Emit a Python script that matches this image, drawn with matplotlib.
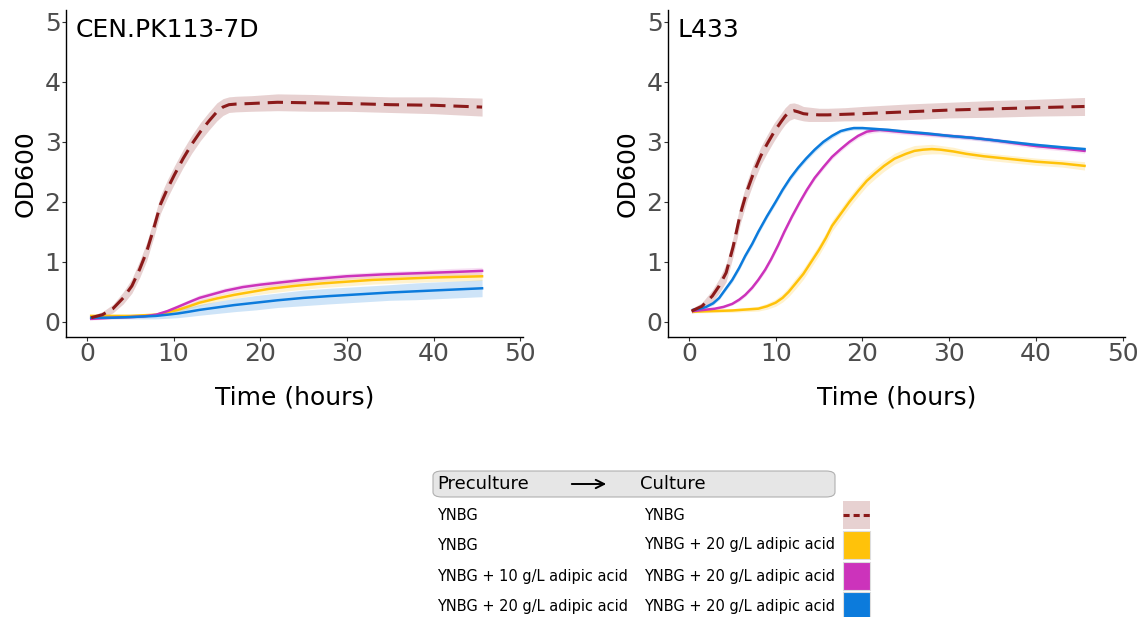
import numpy as np
import matplotlib.pyplot as plt
from matplotlib.patches import FancyBboxPatch, Rectangle
from matplotlib.lines import Line2D

# ---- data ----
# CEN.PK113-7D
cen_ynbg_t = [0.5, 1.8, 3.0, 4.2, 5.2, 6.1, 6.9, 7.7, 8.5, 9.3, 10.1, 11.1, 12.1, 13.1, 14.1, 15.0, 15.7, 16.4, 17.2, 19, 22, 26, 30, 35, 40, 45.6]
cen_ynbg_y = [0.07, 0.12, 0.22, 0.4, 0.6, 0.88, 1.17, 1.55, 1.96, 2.22, 2.45, 2.72, 2.96, 3.17, 3.35, 3.5, 3.58, 3.62, 3.63, 3.64, 3.66, 3.65, 3.64, 3.62, 3.61, 3.58]
cen_ynbg_sd = [0.03, 0.05, 0.07, 0.1, 0.12, 0.14, 0.15, 0.15, 0.15, 0.15, 0.15, 0.15, 0.15, 0.15, 0.15, 0.15, 0.14, 0.13, 0.13, 0.13, 0.14, 0.14, 0.13, 0.13, 0.14, 0.15]

cen_y0_t = [0.5, 3, 5, 6.5, 8, 9.3, 10.5, 11.8, 13, 15, 17, 19, 21, 24, 27, 30, 33, 36.5, 40, 45.6]
cen_y0_y = [0.1, 0.1, 0.1, 0.11, 0.12, 0.16, 0.2, 0.26, 0.32, 0.39, 0.45, 0.5, 0.55, 0.6, 0.64, 0.67, 0.7, 0.72, 0.74, 0.76]
cen_y0_sd = [0.02, 0.02, 0.02, 0.02, 0.03, 0.03, 0.04, 0.04, 0.05, 0.05, 0.06, 0.06, 0.07, 0.07, 0.07, 0.07, 0.07, 0.07, 0.07, 0.07]

cen_y10_t = [0.5, 3, 5, 6.5, 8, 9.3, 10.5, 11.8, 13, 14.5, 16, 18, 20, 22.5, 25, 27.5, 30, 34, 38, 42, 45.6]
cen_y10_y = [0.05, 0.07, 0.08, 0.09, 0.12, 0.18, 0.25, 0.33, 0.4, 0.46, 0.52, 0.58, 0.62, 0.66, 0.7, 0.73, 0.76, 0.79, 0.81, 0.83, 0.85]
cen_y10_sd = [0.02, 0.02, 0.02, 0.02, 0.03, 0.03, 0.04, 0.04, 0.05, 0.05, 0.05, 0.05, 0.05, 0.05, 0.05, 0.05, 0.05, 0.05, 0.05, 0.06, 0.06]

cen_y20_t = [0.5, 3, 5, 6.5, 8, 9.3, 10.5, 11.8, 13, 15, 17, 19.5, 22, 25, 28, 31.5, 35, 38, 41, 45.6]
cen_y20_y = [0.07, 0.07, 0.08, 0.09, 0.1, 0.12, 0.14, 0.17, 0.2, 0.24, 0.28, 0.32, 0.36, 0.4, 0.43, 0.46, 0.49, 0.51, 0.53, 0.56]
cen_y20_sd = [0.02, 0.02, 0.03, 0.04, 0.05, 0.06, 0.07, 0.08, 0.09, 0.1, 0.11, 0.12, 0.12, 0.13, 0.13, 0.13, 0.13, 0.14, 0.14, 0.14]

# L433
l_ynbg_t = [0.3, 1.5, 2.7, 3.5, 4.3, 5.1, 5.9, 6.7, 7.5, 8.3, 9.0, 9.8, 10.6, 11.1, 11.6, 12.1, 12.6, 13.2, 13.8, 15, 16, 18, 20, 25, 30, 35, 40, 45.6]
l_ynbg_y = [0.18, 0.26, 0.43, 0.6, 0.82, 1.25, 1.78, 2.18, 2.5, 2.77, 2.96, 3.16, 3.33, 3.43, 3.5, 3.52, 3.5, 3.47, 3.46, 3.45, 3.45, 3.46, 3.47, 3.5, 3.53, 3.55, 3.57, 3.59]
l_ynbg_sd = [0.04, 0.06, 0.1, 0.12, 0.15, 0.16, 0.16, 0.16, 0.16, 0.15, 0.15, 0.15, 0.14, 0.14, 0.14, 0.13, 0.13, 0.12, 0.12, 0.11, 0.11, 0.11, 0.12, 0.13, 0.13, 0.14, 0.14, 0.15]

l_y0_t = [0.5, 5, 8, 9, 10, 10.8, 11.5, 12.3, 13.2, 14.1, 15, 15.8, 16.5, 17.5, 18.5, 19.5, 20.5, 21.5, 22.5, 23.7, 25, 26, 27, 28, 29, 30.5, 32, 34, 36, 38, 40, 43, 45.6]
l_y0_y = [0.17, 0.19, 0.22, 0.26, 0.32, 0.4, 0.5, 0.64, 0.8, 1.0, 1.2, 1.4, 1.6, 1.8, 2.0, 2.18, 2.35, 2.48, 2.6, 2.72, 2.8, 2.85, 2.87, 2.88, 2.87, 2.84, 2.8, 2.76, 2.73, 2.7, 2.67, 2.64, 2.6]
l_y0_sd = [0.02, 0.03, 0.04, 0.05, 0.06, 0.07, 0.08, 0.09, 0.09, 0.09, 0.09, 0.09, 0.09, 0.09, 0.09, 0.09, 0.09, 0.09, 0.09, 0.09, 0.09, 0.09, 0.08, 0.08, 0.07, 0.07, 0.06, 0.06, 0.06, 0.06, 0.06, 0.06, 0.07]

l_y10_t = [0.5, 3, 4, 5, 5.8, 6.5, 7.3, 8, 8.8, 9.5, 10.3, 11, 11.9, 12.8, 13.6, 14.5, 15.5, 16.5, 17.5, 18.5, 19.5, 20.5, 21.3, 22, 23.5, 25, 27.5, 30, 32.5, 35, 37.5, 40, 43, 45.6]
l_y10_y = [0.18, 0.22, 0.25, 0.3, 0.37, 0.45, 0.57, 0.7, 0.87, 1.05, 1.28, 1.5, 1.76, 2.0, 2.2, 2.4, 2.58, 2.75, 2.88, 3.0, 3.1, 3.17, 3.19, 3.2, 3.18, 3.16, 3.13, 3.1, 3.07, 3.03, 2.98, 2.93, 2.89, 2.85]
l_y10_sd = [0.02] * 4 + [0.03] * 4 + [0.04] * 26

l_y20_t = [0.5, 1.3, 2, 2.8, 3.5, 4.2, 5, 5.8, 6.5, 7.3, 8, 9, 10, 10.8, 11.7, 12.6, 13.5, 14.5, 15.5, 16.5, 17.5, 18.3, 19, 20, 21, 23, 25, 27.5, 30, 32.5, 35, 37.5, 40, 43, 45.6]
l_y20_y = [0.2, 0.22, 0.25, 0.31, 0.4, 0.54, 0.7, 0.9, 1.1, 1.3, 1.5, 1.76, 2.0, 2.2, 2.4, 2.57, 2.72, 2.87, 3.0, 3.1, 3.18, 3.21, 3.23, 3.23, 3.22, 3.2, 3.17, 3.14, 3.1, 3.07, 3.03, 2.99, 2.95, 2.91, 2.88]
l_y20_sd = [0.02] * 3 + [0.03] * 3 + [0.04] * 14 + [0.03] * 15

precultures = ["YNBG", "YNBG", "YNBG + 10 g/L adipic acid", "YNBG + 20 g/L adipic acid"]
cultures = ["YNBG", "YNBG + 20 g/L adipic acid", "YNBG + 20 g/L adipic acid", "YNBG + 20 g/L adipic acid"]
colors = ["#8B1A1A", "#FFC20A", "#CC33BB", "#0C7BDC"]
band_alpha = [0.2, 0.2, 0.15, 0.2]

panels = [
    ("CEN.PK113-7D", [(cen_ynbg_t, cen_ynbg_y, cen_ynbg_sd), (cen_y0_t, cen_y0_y, cen_y0_sd),
                      (cen_y10_t, cen_y10_y, cen_y10_sd), (cen_y20_t, cen_y20_y, cen_y20_sd)]),
    ("L433", [(l_ynbg_t, l_ynbg_y, l_ynbg_sd), (l_y0_t, l_y0_y, l_y0_sd),
              (l_y10_t, l_y10_y, l_y10_sd), (l_y20_t, l_y20_y, l_y20_sd)]),
]

plt.rcParams["font.family"] = "DejaVu Sans"
fig = plt.figure(figsize=(11.39, 6.17), dpi=100)

axes_pos = [[0.058, 0.454, 0.401, 0.530], [0.5865, 0.454, 0.4015, 0.530]]
# draw order: yellow, magenta, blue, red on top
order = [1, 2, 3, 0]

for (name, series), pos in zip(panels, axes_pos):
    ax = fig.add_axes(pos)
    for i in order:
        t, y, sd = series[i]
        t = np.array(t); y = np.array(y); sd = np.array(sd)
        ax.fill_between(t, y - sd, y + sd, color=colors[i], alpha=band_alpha[i], lw=0)
    for i in order:
        t, y, sd = series[i]
        if i == 0:
            ax.plot(t, y, color=colors[i], lw=2.2, ls=(0, (5, 2.6)), solid_joinstyle="round")
        else:
            ax.plot(t, y, color=colors[i], lw=1.8, solid_joinstyle="round")
    ax.set_xlim(-2.4, 50.3)
    ax.set_ylim(-0.25, 5.2)
    ax.set_xticks([0, 10, 20, 30, 40, 50])
    ax.set_yticks([0, 1, 2, 3, 4, 5])
    ax.tick_params(labelsize=18, colors="#333333", labelcolor="#4D4D4D", length=3, width=0.8, pad=1)
    for s in ["top", "right"]:
        ax.spines[s].set_visible(False)
    for s in ["left", "bottom"]:
        ax.spines[s].set_linewidth(1.0)
        ax.spines[s].set_color("black")
    ax.set_xlabel("Time (hours)", fontsize=18, labelpad=14)
    ax.set_ylabel("OD600", fontsize=18, labelpad=5)
    ax.text(0.02, 0.975, name, transform=ax.transAxes, fontsize=18, va="top", ha="left")

# ---- legend table ----
W, H = 1139, 617
def fx(px):
    return px / W
def fy(py):
    return 1 - py / H

hdr = FancyBboxPatch((fx(433), fy(497)), fx(835) - fx(433), fy(471) - fy(497),
                     boxstyle="round,pad=0,rounding_size=0.008", transform=fig.transFigure,
                     facecolor="#E6E6E6", edgecolor="#B0B0B0", lw=0.8)
fig.patches.append(hdr)
fig.text(fx(437), fy(484), "Preculture", fontsize=13, va="center", ha="left")
fig.text(fx(640), fy(484), "Culture", fontsize=13, va="center", ha="left")
fig.add_artist(plt.Annotation("", xy=(fx(609), fy(484)), xytext=(fx(569), fy(484)),
                              xycoords="figure fraction", textcoords="figure fraction",
                              arrowprops=dict(arrowstyle="->,head_length=0.6,head_width=0.3", lw=1.4, color="black")))

row_y = [515, 545, 576, 606]
for i in range(4):
    fig.text(fx(437), fy(row_y[i]), precultures[i], fontsize=10.5, va="center", ha="left")
    fig.text(fx(644), fy(row_y[i]), cultures[i], fontsize=10.5, va="center", ha="left")
    top = row_y[i] - 14
    if i == 0:
        r = Rectangle((fx(843), fy(top + 28)), fx(870) - fx(843), fy(top) - fy(top + 28),
                      transform=fig.transFigure, facecolor=colors[0], alpha=0.2, edgecolor="none")
        fig.patches.append(r)
        fig.add_artist(Line2D([fx(843), fx(870)], [fy(row_y[i]), fy(row_y[i])],
                              transform=fig.transFigure, color=colors[0], lw=2.2, ls=(0, (2, 1.3))))
    else:
        r = Rectangle((fx(843), fy(top + 28)), fx(870) - fx(843), fy(top) - fy(top + 28),
                      transform=fig.transFigure, facecolor=colors[i], edgecolor="#DDDDDD", lw=0.8)
        fig.patches.append(r)

fig.savefig("out.png", dpi=100)
